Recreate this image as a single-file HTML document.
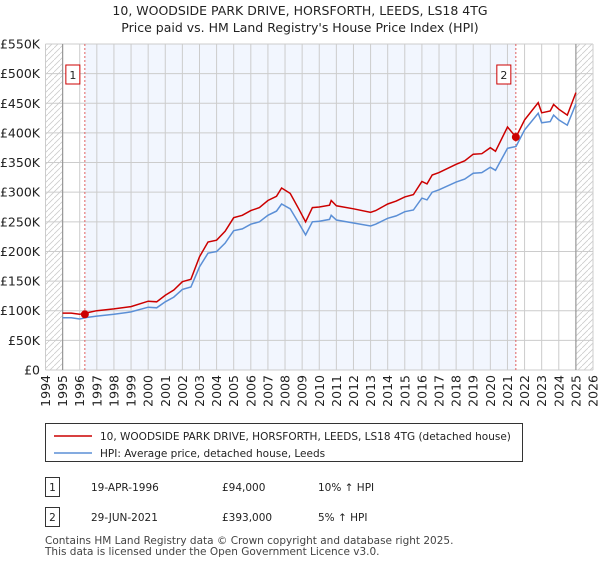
<!DOCTYPE html>
<html><head><meta charset="utf-8"><style>
body{margin:0;background:#fff;font-family:"Liberation Sans","DejaVu Sans",sans-serif;}
#wrap{position:relative;width:600px;height:560px;}
svg text{font-family:"DejaVu Sans","Liberation Sans",sans-serif;}
</style></head><body>
<div id="wrap">
<svg id="chart" width="600" height="560"></svg>
</div>
<script>
const years=[1995,1995.5,1996,1996.5,1997,1998,1999,2000,2000.5,2001,2001.5,2002,2002.5,2003,2003.5,2004,2004.5,2005,2005.5,2006,2006.5,2007,2007.5,2007.8,2008.3,2008.8,2009.2,2009.6,2010,2010.6,2010.7,2011,2012,2013,2013.3,2014,2014.5,2015,2015.5,2016,2016.3,2016.6,2017,2018,2018.5,2019,2019.5,2020,2020.3,2021,2021.5,2022,2022.8,2023,2023.5,2023.7,2024,2024.5,2025];
const hpiValues=[88,88,86,89,91,94,98,106,105,115,123,136,140,174,197,200,214,235,238,246,250,261,268,280,272,248,228,250,251,254,261,253,248,243,246,256,260,267,270,290,287,300,304,317,322,332,333,342,337,374,377,405,433,417,419,430,422,413,449];
const priceValues=[96,96,94,97,100,103,107,116,115,126,135,149,153,191,216,219,234,257,261,269,274,286,293,307,298,272,250,274,275,278,286,277,272,266,269,280,285,292,296,318,314,329,333,347,353,364,365,375,369,410,393,422,451,434,437,448,440,430,468];
const yTicks=[0,50,100,150,200,250,300,350,400,450,500,550];
const yTickLabels=["£0","£50K","£100K","£150K","£200K","£250K","£300K","£350K","£400K","£450K","£500K","£550K"];
const xTicks=[1994,1995,1996,1997,1998,1999,2000,2001,2002,2003,2004,2005,2006,2007,2008,2009,2010,2011,2012,2013,2014,2015,2016,2017,2018,2019,2020,2021,2022,2023,2024,2025,2026];
const sales=[{label:"1",year:1996.3,value:94},{label:"2",year:2021.49,value:393}];

const NS="http://www.w3.org/2000/svg";
const svg=document.getElementById('chart');
const X0=45.5,X1=593,Y0=370,Y1=44;
const xs=y=>X0+(y-1994)/32*(X1-X0);
const ys=v=>Y0-v/550*(Y0-Y1);
function el(tag,attrs,parent){const e=document.createElementNS(NS,tag);for(const k in attrs)e.setAttribute(k,attrs[k]);(parent||svg).appendChild(e);return e;}
function txt(s,attrs,parent){const e=el('text',attrs,parent);e.textContent=s;return e;}

const defs=el('defs',{});
const pat=el('pattern',{id:'hatch',width:6,height:6,patternUnits:'userSpaceOnUse'},defs);
el('path',{d:'M0,6 L6,0',stroke:'#ccc','stroke-width':0.8},pat);

let t=txt("10, WOODSIDE PARK DRIVE, HORSFORTH, LEEDS, LS18 4TG",{x:300,y:15,'text-anchor':'middle','font-size':12.5,fill:'#222'});

t=txt("Price paid vs. HM Land Registry's House Price Index (HPI)",{x:300,y:32,'text-anchor':'middle','font-size':12.5,fill:'#222'});


let r=el('rect',{x:xs(sales[0].year),y:Y1,width:xs(sales[1].year)-xs(sales[0].year),height:Y0-Y1,fill:'#f2f6fe'});

r=el('rect',{x:X0,y:Y1,width:xs(1995)-X0,height:Y0-Y1,fill:'url(#hatch)'});

r=el('rect',{x:xs(2025),y:Y1,width:X1-xs(2025),height:Y0-Y1,fill:'url(#hatch)'});


const grid=el('g',{});

yTicks.forEach((v,i)=>{
  el('line',{x1:X0,x2:X1,y1:ys(v),y2:ys(v),stroke:'#ccc','stroke-width':1},grid);
  const l=txt(yTickLabels[i],{x:40,y:ys(v)+4.5,'text-anchor':'end','font-size':12.5,fill:'#222'});
  
});
xTicks.forEach(y=>{
  el('line',{x1:xs(y),x2:xs(y),y1:Y1,y2:Y0,stroke:'#ccc','stroke-width':1},grid);
  const l=txt(String(y),{x:0,y:0,'text-anchor':'end','font-size':12.5,fill:'#222',transform:`translate(${xs(y)+4.5},${Y0+5}) rotate(-90)`});
  
});
el('line',{x1:xs(1995),x2:xs(1995),y1:Y1,y2:Y0,stroke:'#999','stroke-width':1.2},grid);
el('line',{x1:xs(2025),x2:xs(2025),y1:Y1,y2:Y0,stroke:'#999','stroke-width':1.2},grid);

sales.forEach(s=>{
  const g=el('g',{});
  
  el('line',{x1:xs(s.year),x2:xs(s.year),y1:Y1,y2:Y0,stroke:'#e06060','stroke-width':1,'stroke-dasharray':'2,2'},g);
  el('rect',{x:xs(s.year)-19,y:65,width:14,height:19,fill:'#fff',stroke:'#c00','stroke-width':1},g);
  txt(s.label,{x:xs(s.year)-12,y:79,'text-anchor':'middle','font-size':11,fill:'#222'},g);
});

const hp=years.map((y,i)=>(i?'L':'M')+xs(y).toFixed(1)+','+ys(hpiValues[i]).toFixed(1)).join('');
const pl=el('path',{d:hp,fill:'none',stroke:'#5b8fd6','stroke-width':1.5});

const pp=years.map((y,i)=>(i?'L':'M')+xs(y).toFixed(1)+','+ys(priceValues[i]).toFixed(1)).join('');
const rl=el('path',{d:pp,fill:'none',stroke:'#cc0000','stroke-width':1.5});

sales.forEach(s=>{
  const c=el('circle',{cx:xs(s.year),cy:ys(s.value),r:4,fill:'#cc0000'});
  
});

const lg=el('g',{});

el('rect',{x:45.5,y:423.5,width:477,height:38,fill:'#fff',stroke:'#333','stroke-width':1},lg);
el('line',{x1:54,x2:92,y1:436,y2:436,stroke:'#cc0000','stroke-width':1.5},lg);
el('line',{x1:54,x2:92,y1:453,y2:453,stroke:'#5b8fd6','stroke-width':1.5},lg);
txt("10, WOODSIDE PARK DRIVE, HORSFORTH, LEEDS, LS18 4TG (detached house)",{x:100,y:440,'font-size':10.5,fill:'#222'},lg);
txt("HPI: Average price, detached house, Leeds",{x:100,y:457,'font-size':10.5,fill:'#222'},lg);

const rows=[["1","19-APR-1996","£94,000","10% ↑ HPI",489],["2","29-JUN-2021","£393,000","5% ↑ HPI",519]];
rows.forEach(rw=>{
  const g=el('g',{});
  
  el('rect',{x:45.5,y:rw[4]-11.5,width:14,height:19,fill:'#fff',stroke:'#333','stroke-width':1},g);
  txt(rw[0],{x:52.5,y:rw[4]+2,'text-anchor':'middle','font-size':10.5,fill:'#222'},g);
  txt(rw[1],{x:91,y:rw[4]+2,'font-size':10.5,fill:'#222'},g);
  txt(rw[2],{x:222,y:rw[4]+2,'font-size':10.5,fill:'#222'},g);
  txt(rw[3],{x:318,y:rw[4]+2,'font-size':10.5,fill:'#222'},g);
});
t=txt("Contains HM Land Registry data © Crown copyright and database right 2025.",{x:45,y:544,'font-size':10.5,fill:'#444'});

t=txt("This data is licensed under the Open Government Licence v3.0.",{x:45,y:555,'font-size':10.5,fill:'#444'});

</script>
</body></html>
